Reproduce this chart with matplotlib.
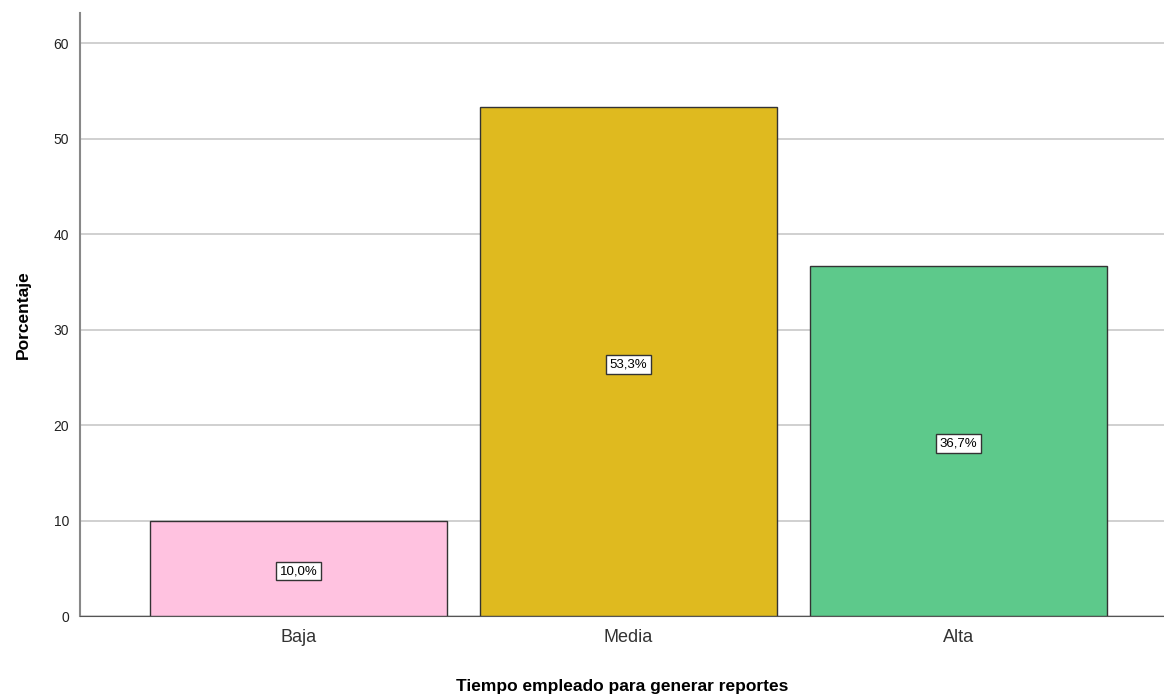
import matplotlib.pyplot as plt

categories = ['Baja', 'Media', 'Alta']
percentages = [10.0, 53.3, 36.7]
bar_labels = ['10,0%', '53,3%', '36,7%']
colors = ['#FFC2E0', '#DFBA1F', '#5DC98B']

plt.rcParams['font.family'] = ['Liberation Sans', 'DejaVu Sans']

fig = plt.figure(figsize=(11.64, 6.95), dpi=100)
ax = fig.add_axes([80 / 1164, 1 - 616 / 695, 1 - 80 / 1164, (616 - 13) / 695])

x = range(len(categories))
bars = ax.bar(x, percentages, width=0.9, color=colors, edgecolor='#333333', linewidth=1, zorder=3)
for b, lab in zip(bars, bar_labels):
    ax.text(b.get_x() + b.get_width() / 2, b.get_height() / 2 - 0.3, lab,
            ha='center', va='center', fontsize=9.5, zorder=4,
            bbox=dict(boxstyle='square,pad=0.25', fc='white', ec='#333333', lw=1))

ax.set_xlim(-0.662, 2.623)
ax.set_ylim(0, 63.15)
ax.set_yticks([0, 10, 20, 30, 40, 50, 60])
ax.set_xticks(list(x))
ax.set_xticklabels(categories, fontsize=13, color='#333333')
ax.tick_params(axis='y', length=0, labelsize=10, pad=8, labelcolor='#222222')
ax.tick_params(axis='x', length=0, pad=9)
ax.yaxis.grid(True, color='#C8C8C8', linewidth=1.2, zorder=0)

for s in ['top', 'right']:
    ax.spines[s].set_visible(False)
ax.spines['left'].set_color('#888888')
ax.spines['left'].set_linewidth(1.5)
ax.spines['bottom'].set_color('#555555')

ax.set_xlabel('Tiempo empleado para generar reportes', fontsize=12.5, fontweight='bold', labelpad=24)
ax.set_ylabel('Porcentaje', fontsize=12.5, fontweight='bold', labelpad=16)

fig.savefig('out.png', dpi=100)
